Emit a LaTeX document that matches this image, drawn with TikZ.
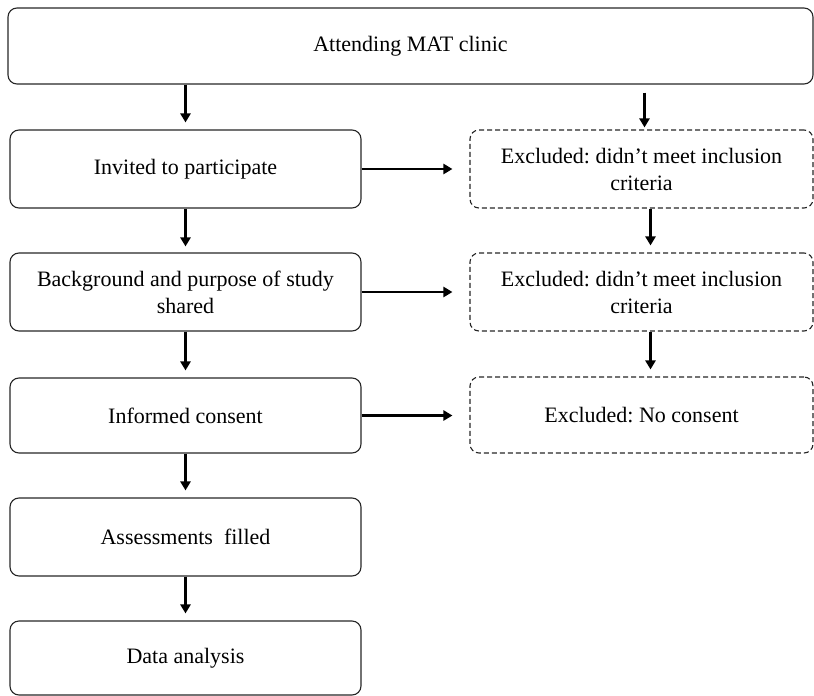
\documentclass[tikz,border=0pt]{standalone}
\usepackage{fontspec}
\setmainfont{Liberation Serif}
\usetikzlibrary{arrows.meta,calc}
\begin{document}
\begin{tikzpicture}[x=1pt,y=-1pt,
  box/.style={draw=black!85, line width=1.1pt, rounded corners=9pt, align=center,
    inner sep=0pt, font=\fontsize{22}{27}\selectfont},
  leftbox/.style={box, minimum width=351pt},
  rightbox/.style={box, minimum width=343pt, dash pattern=on 5pt off 3pt},
  arr/.style={line width=2.5pt, -{Triangle[length=9pt,width=10pt]}}]
\useasboundingbox (0,0) rectangle (814,696);

\node[box, minimum width=805pt, minimum height=76pt] (top) at (410.5,46) {Attending MAT clinic};

\node[leftbox, minimum height=78pt] (inv) at (185.5,169) {Invited to participate};
\node[leftbox, minimum height=78pt] (bg) at (185.5,292) {Background and purpose of study\\shared};
\node[leftbox, minimum height=75pt] (ic) at (185.5,415.5) {Informed consent};
\node[leftbox, minimum height=78pt] (as) at (185.5,537) {Assessments\ \ filled};
\node[leftbox, minimum height=74pt] (da) at (185.5,658) {Data analysis};

\node[rightbox, minimum height=78pt] (ex1) at (641.5,169) {Excluded:\ didn't meet inclusion\\criteria};
\node[rightbox, minimum height=78pt] (ex2) at (641.5,292) {Excluded:\ didn't meet inclusion\\criteria};
\node[rightbox, minimum height=76pt] (ex3) at (641.5,415) {Excluded:\ No consent};

\draw[arr, shorten >=7pt] (top.south -| inv) -- (inv.north);
\draw[arr, shorten <=8pt, shorten >=2pt] ($(top.south -| ex1)+(3,0)$) -- ($(ex1.north)+(3,0)$);
\draw[arr, shorten >=6pt] (inv.south) -- (bg.north);
\draw[arr, shorten >=7pt] (bg.south) -- (ic.north);
\draw[arr, shorten >=7pt] (ic.south) -- (as.north);
\draw[arr, shorten >=7pt] (as.south) -- (da.north);
\draw[arr, shorten >=7pt] ($(ex1.south)+(9,0)$) -- ($(ex2.north)+(9,0)$);
\draw[arr, shorten >=7pt] ($(ex2.south)+(9,0)$) -- ($(ex3.north)+(9,0)$);

\draw[arr, shorten >=17pt] (inv.east) -- (inv.east -| ex1.west);
\draw[arr, shorten >=17pt] (bg.east) -- (bg.east -| ex2.west);
\draw[arr, shorten >=17pt] (ic.east) -- (ic.east -| ex3.west);
\end{tikzpicture}
\end{document}
